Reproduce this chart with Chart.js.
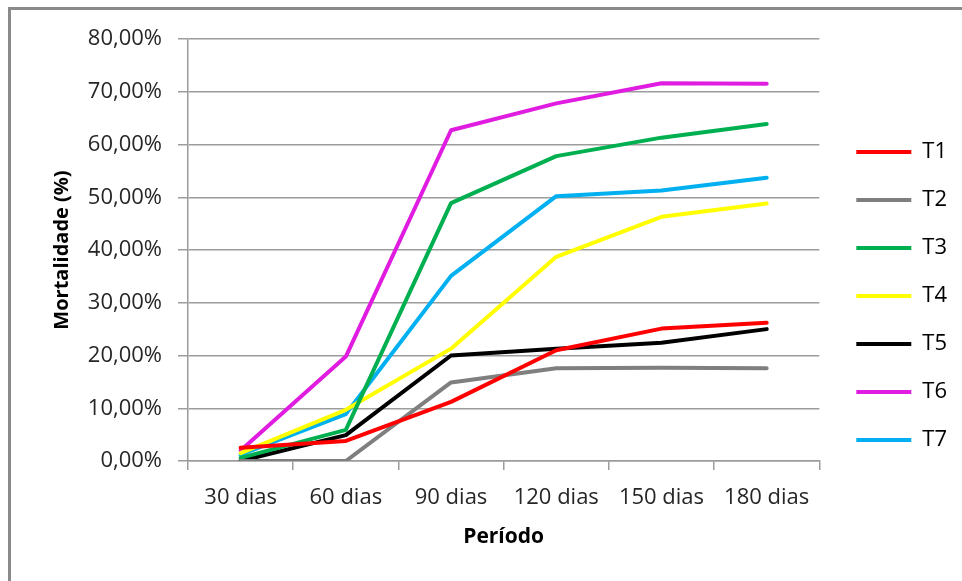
<!DOCTYPE html>
<html>
<head>
<meta charset="utf-8">
<script src="https://cdn.jsdelivr.net/npm/chart.js@4.4.1/dist/chart.umd.min.js"></script>
<style>
    html, body { margin: 0; padding: 0; background: #fff; }
    #wrap { position: relative; width: 962px; height: 581px; overflow: hidden; }
    canvas { display: block; }
</style>
</head>
<body>
<div id="wrap">
    <canvas id="mortalidadeChart" width="962" height="581"></canvas>
</div>
<script>
// Mortalidade acumulada por tratamento (%)
const periodos = ['30 dias', '60 dias', '90 dias', '120 dias', '150 dias', '180 dias'];

const t1 = [2.5, 3.8, 11.2, 21.0, 25.1, 26.2];
const t2 = [0, 0, 14.9, 17.6, 17.7, 17.6];
const t3 = [0.6, 5.9, 48.9, 57.8, 61.3, 63.9];
const t4 = [1.5, 9.7, 21.3, 38.7, 46.3, 48.8];
const t5 = [0, 4.9, 20.0, 21.3, 22.4, 25.0];
const t6 = [2.0, 19.8, 62.7, 67.8, 71.6, 71.5];
const t7 = [1.2, 8.9, 35.1, 50.2, 51.3, 53.7];

const yTicks = [0, 10, 20, 30, 40, 50, 60, 70, 80];

const series = [
    { label: 'T1', data: t1, color: '#ff0000' },
    { label: 'T2', data: t2, color: '#7f7f7f' },
    { label: 'T3', data: t3, color: '#00b050' },
    { label: 'T4', data: t4, color: '#ffff00' },
    { label: 'T5', data: t5, color: '#000000' },
    { label: 'T6', data: t6, color: '#e01ce0' },
    { label: 'T7', data: t7, color: '#00b0f0' }
];

const FONT = "'Open Sans', sans-serif";
const GRID = '#9c9c9c';
const TEXT = '#262626';
const PAD_LEFT = 46;

const fmtPct = v => v.toFixed(2).replace('.', ',') + '%';

// moldura cinza (canto superior esquerdo)
const framePlugin = {
    id: 'frame',
    beforeDraw(chart) {
        const ctx = chart.ctx;
        ctx.save();
        ctx.fillStyle = '#8a8a8a';
        ctx.fillRect(8, 7, chart.width, 3);
        ctx.fillRect(8, 7, 3, chart.height);
        ctx.restore();
    }
};

// ajusta a posicao da legenda
const legendShift = {
    id: 'legendShift',
    afterUpdate(chart) {
        const lg = chart.legend;
        if (!lg) return;
        lg.left += 11;
        lg.right += 11;
        lg.top -= 4;
        lg.bottom -= 4;
    }
};

new Chart(document.getElementById('mortalidadeChart'), {
    type: 'line',
    data: {
        labels: periodos,
        datasets: series.map(s => ({
            label: s.label,
            data: s.data,
            borderColor: s.color,
            backgroundColor: s.color,
            borderWidth: 4,
            borderCapStyle: 'round',
            borderJoinStyle: 'round',
            pointRadius: 0,
            tension: 0,
            fill: false
        }))
    },
    options: {
        responsive: false,
        animation: false,
        layout: {
            padding: { left: PAD_LEFT, top: 39, right: 16, bottom: 20 }
        },
        plugins: {
            tooltip: { enabled: false },
            legend: {
                position: 'right',
                labels: {
                    usePointStyle: true,
                    pointStyle: 'line',
                    pointStyleWidth: 55,
                    boxHeight: 22,
                    padding: 26,
                    color: '#000',
                    font: { family: FONT, size: 22 }
                }
            }
        },
        scales: {
            x: {
                offset: true,
                afterFit: scale => { scale.height = 100; },
                grid: {
                    offset: true,
                    drawOnChartArea: false,
                    drawTicks: true,
                    tickLength: 9,
                    color: GRID,
                    lineWidth: 1.5
                },
                border: { display: true, color: GRID, width: 1.5 },
                ticks: {
                    color: TEXT,
                    padding: 15,
                    maxRotation: 0,
                    font: { family: FONT, size: 22 }
                },
                title: {
                    display: true,
                    text: 'Período',
                    color: '#000',
                    padding: { top: 0, bottom: 11 },
                    font: { family: FONT, size: 21, weight: 'bold' }
                }
            },
            y: {
                min: 0,
                max: 80,
                afterFit: scale => { scale.width = 188 - PAD_LEFT; },
                afterBuildTicks: scale => {
                    scale.ticks = yTicks.map(v => ({ value: v }));
                },
                grid: {
                    color: GRID,
                    lineWidth: 1.5,
                    tickLength: 10
                },
                border: { display: true, color: GRID, width: 1.5 },
                ticks: {
                    color: TEXT,
                    padding: 16,
                    font: { family: FONT, size: 22 },
                    callback: v => fmtPct(v)
                },
                title: {
                    display: true,
                    text: 'Mortalidade (%)',
                    color: '#000',
                    padding: { top: 4, bottom: 4 },
                    font: { family: FONT, size: 20, weight: 'bold' }
                }
            }
        }
    },
    plugins: [framePlugin, legendShift]
});
</script>
</body>
</html>
